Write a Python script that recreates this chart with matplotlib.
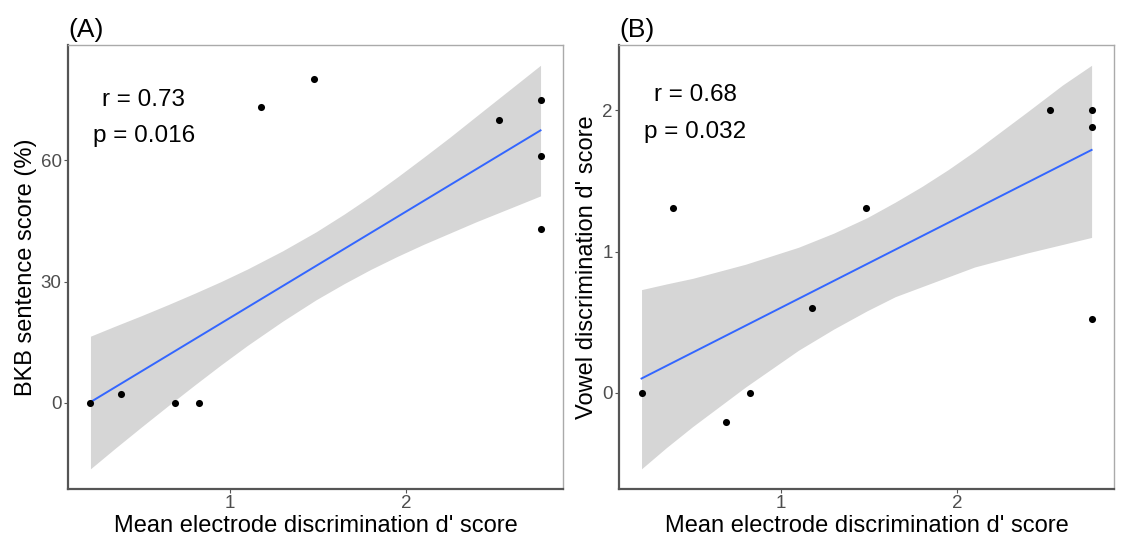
# scatter plots of speech scores vs mean electrode discrimination, with linear fit and 95% band
import numpy as np
import matplotlib.pyplot as plt

plt.rcParams['font.family'] = ['Liberation Sans', 'DejaVu Sans']

# mean electrode discrimination d' (same subjects in both panels)
d_prime = [0.209, 0.385, 0.691, 0.824, 1.178, 1.481, 2.528, 2.765, 2.765, 2.765]
# panel A: BKB sentence score (%)
bkb = [0, 2.1, 0, 0, 73.1, 80.1, 70.0, 75.0, 61.0, 43.0]
# panel B: vowel discrimination d'
vowel = [0, 1.31, -0.21, 0, 0.6, 1.31, 2.0, 2.0, 1.88, 0.52]

# fitted line and confidence band edges
band_x = [0.209, 0.35, 0.5, 0.65, 0.8, 0.95, 1.1, 1.3, 1.49, 1.65, 1.8,
          1.95, 2.1, 2.25, 2.4, 2.6, 2.765]
bkb_fit = [0.2, 67.4]
bkb_hi = [16.5, 19.0, 21.6, 24.3, 27.1, 30.0, 33.1, 37.6, 42.3, 46.7, 51.1,
          55.8, 60.7, 65.7, 70.9, 77.8, 83.5]
bkb_lo = [-16.3, -11.2, -5.9, -0.7, 4.4, 9.4, 14.2, 20.2, 25.5, 29.5, 33.0,
          36.2, 39.2, 42.0, 44.8, 48.3, 51.2]
vowel_fit = [0.1, 1.72]
vowel_hi = [0.73, 0.77, 0.81, 0.86, 0.91, 0.97, 1.03, 1.13, 1.24, 1.35, 1.46,
            1.58, 1.71, 1.85, 1.99, 2.18, 2.32]
vowel_lo = [-0.54, -0.39, -0.24, -0.10, 0.04, 0.17, 0.30, 0.45, 0.58, 0.68, 0.75,
            0.82, 0.89, 0.94, 0.99, 1.05, 1.10]

panels = [
    ("(A)", bkb, bkb_fit, bkb_lo, bkb_hi, "BKB sentence score (%)", [0, 30, 60],
     "r = 0.73", "p = 0.016"),
    ("(B)", vowel, vowel_fit, vowel_lo, vowel_hi, "Vowel discrimination d' score",
     [0, 1, 2], "r = 0.68", "p = 0.032"),
]

fig = plt.figure(figsize=(11.29, 5.42), dpi=100)
lefts = [0.0602, 0.5483]
width = 0.4385
txt_y = [(0.876, 0.796), (0.888, 0.805)]
txt_x = [0.153, 0.154]

for i, (tag, y, fit, lo, hi, ylab, yt, rtxt, ptxt) in enumerate(panels):
    ax = fig.add_axes([lefts[i], 0.0978, width, 0.819])
    ax.fill_between(band_x, lo, hi, color='#d6d6d6', lw=0, zorder=1)
    ax.plot([band_x[0], band_x[-1]], fit, color='#3366ff', lw=1.4, zorder=2)
    ax.scatter(d_prime, y, s=26, color='black', zorder=3, lw=0)

    ax.set_xticks([1, 2])
    ax.set_yticks(yt)
    ax.tick_params(direction='out', length=3, width=0.8, color='#555555',
                   labelcolor='#4d4d4d', labelsize=13.5, pad=1.5)
    for side in ['left', 'bottom']:
        ax.spines[side].set_color('#555555')
        ax.spines[side].set_linewidth(1.6)
    for side in ['top', 'right']:
        ax.spines[side].set_color('#aaaaaa')
        ax.spines[side].set_linewidth(1.0)
    ax.set_xlabel("Mean electrode discrimination d' score", fontsize=17, labelpad=2)
    ax.set_ylabel(ylab, fontsize=17, labelpad=3)
    ax.text(txt_x[i], txt_y[i][0], rtxt, transform=ax.transAxes, fontsize=17.5,
            ha='center', va='center')
    ax.text(txt_x[i], txt_y[i][1], ptxt, transform=ax.transAxes, fontsize=17.5,
            ha='center', va='center')
    ax.text(0.0, 1.008, tag, transform=ax.transAxes, fontsize=19,
            ha='left', va='bottom')

fig.savefig("out.png", dpi=100)
